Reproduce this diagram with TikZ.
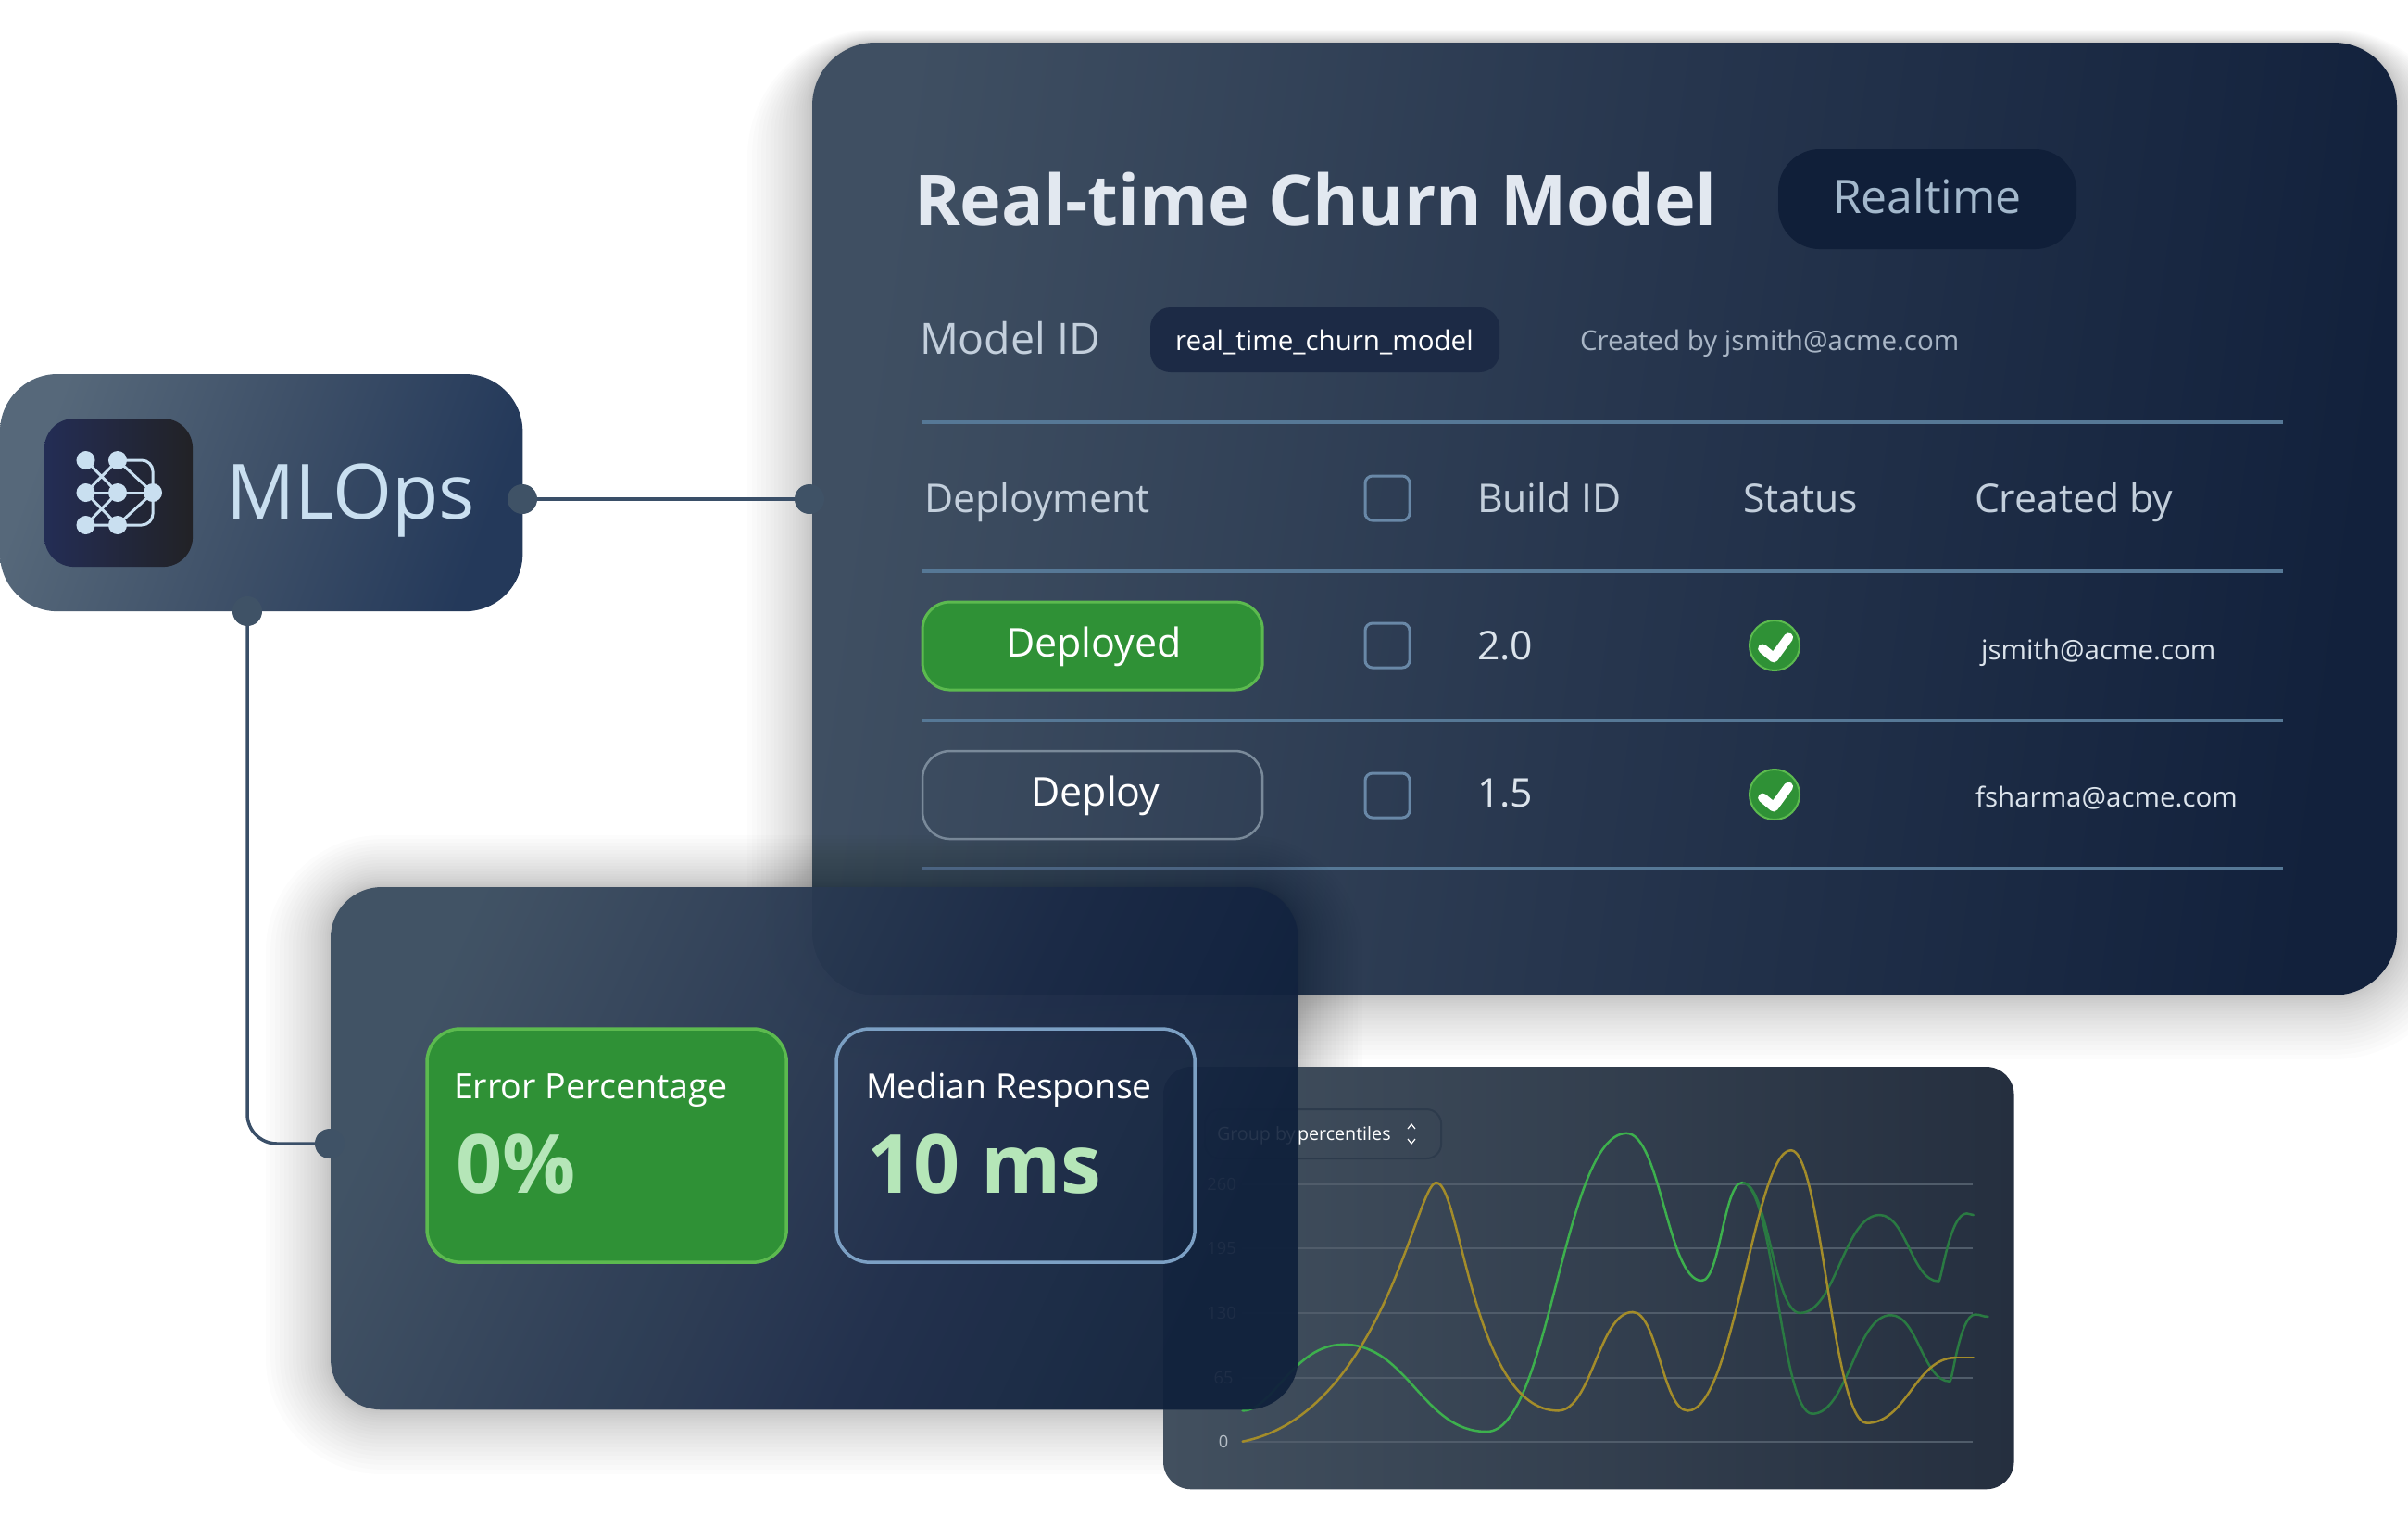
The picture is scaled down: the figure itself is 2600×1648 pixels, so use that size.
\documentclass[tikz,border=0pt]{standalone}
\usepackage{fontspec}
\setmainfont{Open Sans}
\usetikzlibrary{calc}
\definecolor{cline}{HTML}{3A4F68}
\definecolor{cdot}{HTML}{3F5266}
\definecolor{crule}{HTML}{567896}
\definecolor{cgreen}{HTML}{2F9136}
\definecolor{cgreenedge}{HTML}{5CBA4F}
\definecolor{clight}{HTML}{B5E6B8}
\definecolor{cbluedge}{HTML}{7CA0C4}
\definecolor{cicon}{HTML}{C9DFF0}
\definecolor{cyel}{HTML}{A38C2A}
\definecolor{cgrnA}{HTML}{3DB04D}
\definecolor{cgrnB}{HTML}{2A7A42}
\definecolor{cHdr}{HTML}{C3CFDC}
\definecolor{cTitle}{HTML}{E2E8F0}
\definecolor{cVal}{HTML}{DCE4EC}
\definecolor{cGrid}{HTML}{505C6A}
\definecolor{cAx}{HTML}{B8C0C8}
\definecolor{cFaint}{HTML}{26354D}
\definecolor{cFainter}{HTML}{1E2D46}
\definecolor{pillA}{HTML}{101F39}
\definecolor{pillB}{HTML}{1C2A45}
\definecolor{cRt}{HTML}{A3B8CC}
\definecolor{cMut}{HTML}{A9B6C6}
\definecolor{cBtn}{HTML}{7A8A9A}
\definecolor{cha}{HTML}{42505F}
\definecolor{chb}{HTML}{252F3F}
\definecolor{ica}{HTML}{232D55}
\definecolor{icb}{HTML}{222226}
\definecolor{pa}{HTML}{3F4F62}\definecolor{pb}{HTML}{27364E}\definecolor{pc}{HTML}{12213C}
\definecolor{ka}{HTML}{3B4D60}\definecolor{kb}{HTML}{1B2A47}\definecolor{kc}{HTML}{10213C}
\definecolor{ma}{HTML}{56687A}\definecolor{mb}{HTML}{3E5068}\definecolor{mc}{HTML}{24395A}
\pgfdeclarehorizontalshading{panelshade}{100bp}{color(0bp)=(pa); color(25bp)=(pa); color(50bp)=(pb); color(75bp)=(pc); color(100bp)=(pc)}
\pgfdeclarehorizontalshading{cardshade}{100bp}{color(0bp)=(ka); color(25bp)=(ka); color(58bp)=(kb); color(75bp)=(kc); color(100bp)=(kc)}
\pgfdeclarehorizontalshading{mlopsshade}{100bp}{color(0bp)=(ma); color(25bp)=(ma); color(50bp)=(mb); color(75bp)=(mc); color(100bp)=(mc)}
\newcommand{\softshadow}[6]{%
  \foreach \k in {1,...,20}{%
    \pgfmathsetmacro\dd{70*(\k/20)^1.5}%
    \pgfmathsetmacro\rr{(#5+\dd)*0.01}%
    \fill[black,opacity=0.0125,rounded corners=\rr cm]
      (#1-\dd,#2-\dd*#6) rectangle (#3+\dd,#4+\dd);
  }%
}
% a chart line: extrema joined by beziers with level tangents
\newcommand{\wave}[4]{%
  \foreach \wx/\wy/\ka/\kb [remember=\wx as \lx (initially #2),remember=\wy as \ly (initially #3)] in {#4}{%
    \pgfmathsetmacro\cax{\lx+\ka*(\wx-\lx)}%
    \pgfmathsetmacro\cbx{\wx-\kb*(\wx-\lx)}%
    \draw[#1,curve] (\lx,\ly) .. controls (\cax,\ly) and (\cbx,\wy) .. (\wx,\wy);
  }%
}
\newcommand{\fsz}[1]{\fontsize{#1}{#1}\selectfont}
\tikzset{
  x=0.01cm,y=-0.01cm,
  box/.style={rectangle,inner sep=0pt,outer sep=0pt,anchor=north west},
  dotnode/.style={circle,fill=cdot,inner sep=0pt,outer sep=0pt,minimum size=0.32cm},
  conn/.style={draw=cline,line width=0.035cm},
  rowrule/.style={draw=crule,line width=0.04cm},
  lbl/.style={anchor=base west,inner sep=0pt,outer sep=0pt},
  clbl/.style={anchor=base,inner sep=0pt,outer sep=0pt},
  chk/.style={box,minimum width=0.48cm,minimum height=0.48cm,draw=cbluedge!85!black,line width=0.03cm,rounded corners=0.08cm},
  okdot/.style={circle,fill=cgreen,draw=cgreenedge,line width=0.02cm,inner sep=0pt,minimum size=0.54cm},
  tickmark/.style={draw=white,line width=0.1cm,line cap=round,line join=round},
  netline/.style={draw=cicon,line width=0.03cm},
  netnode/.style={circle,fill=cicon,inner sep=0pt,minimum size=0.2cm},
  hdr/.style={lbl,text=cHdr,font=\fsz{12.15}},
  gridl/.style={draw=cGrid,line width=0.022cm},
  axl/.style={anchor=center,inner sep=0pt,text=cFainter,font=\fsz{5.2}},
  curve/.style={line width=0.025cm,line cap=round}
}
\begin{document}
\begin{tikzpicture}
\useasboundingbox (0,0) rectangle (2600,1648);
\fill[white] (0,0) rectangle (2600,1648);

% main panel
\softshadow{877}{46}{2587}{1074}{68}{0.2}
\node[box,shade,shading=panelshade,shading angle=-8,rounded corners=0.68cm,minimum width=17.10cm,minimum height=10.28cm] (panel) at (877,46) {};

\node[lbl,text=cTitle,font=\fsz{21.5}\bfseries] (title) at (987,243) {Real-time Churn Model};
\node[box,minimum width=3.22cm,minimum height=1.08cm,rounded corners=0.45cm,fill=pillA] (rtpill) at (1920,161) {};
\node[clbl,text=cRt,font=\fsz{14.2}] (rt) at (2081,230) {Realtime};
\node[lbl,text=cHdr,font=\fsz{13.2}] (mid) at (993,382) {Model ID};
\node[box,fill=pillB,minimum width=3.77cm,minimum height=0.70cm,rounded corners=0.22cm] (idpill) at (1242,332) {};
\node[clbl,text=white,font=\fsz{8.4}] (idtext) at (1430,378) {real\_time\_churn\_model};
\node[lbl,text=cMut,font=\fsz{8.4}] (createdtop) at (1706,378) {Created by jsmith@acme.com};

\draw[rowrule] (995,456) -- (2465,456);
\draw[rowrule] (995,617) -- (2465,617);
\draw[rowrule] (995,778) -- (2465,778);
\draw[rowrule] (995,938) -- (2465,938);

\node[hdr] (h1) at (998,553) {Deployment};
\node[chk] (c0) at (1474,514) {};
\node[hdr] (h2) at (1595,553) {Build ID};
\node[hdr] (h3) at (1882,553) {Status};
\node[hdr] (h4) at (2132,553) {Created by};

\node[box,fill=cgreen,draw=cgreenedge,line width=0.03cm,minimum width=3.67cm,minimum height=0.95cm,rounded corners=0.3cm] (btn1) at (996,650) {};
\node[clbl,text=white,font=\fsz{12.2}] (btn1t) at (1181,709) {Deployed};
\node[chk] (c1) at (1474,673) {};
\node[hdr,text=cVal] (v1) at (1595,712) {2.0};
\node[okdot] (ok1) at (1916,697) {};
\begin{scope}[shift={(19.16cm,-6.97cm)}]
\draw[tickmark] (-14,3) -- (-2,13) -- (14,-9);
\end{scope}
\node[lbl,text=cVal,font=\fsz{8.4}] (e1) at (2139,712) {jsmith@acme.com};

\node[box,draw=cBtn,line width=0.025cm,minimum width=3.67cm,minimum height=0.95cm,rounded corners=0.3cm] (btn2) at (996,811) {};
\node[clbl,text=white,font=\fsz{12.2}] (btn2t) at (1183,870) {Deploy};
\node[chk] (c2) at (1474,835) {};
\node[hdr,text=cVal] (v2) at (1595,871) {1.5};
\node[okdot] (ok2) at (1916,858) {};
\begin{scope}[shift={(19.16cm,-8.58cm)}]
\draw[tickmark] (-14,3) -- (-2,13) -- (14,-9);
\end{scope}
\node[lbl,text=cVal,font=\fsz{8.4}] (e2) at (2133,871) {fsharma@acme.com};

% metrics card shadow goes under the chart
\softshadow{357}{958}{1401}{1522}{55}{0.8}

% chart
\node[box,shade,left color=cha,right color=chb,rounded corners=0.3cm,minimum width=9.18cm,minimum height=4.56cm] (chart) at (1256,1152) {};
\node[box,draw=cGrid!120,line width=0.02cm,minimum width=2.55cm,minimum height=0.53cm,rounded corners=0.16cm] (grp) at (1301,1198) {};
\node[lbl,text=white,font=\fsz{5.6}] (grp2) at (1401,1231) {percentiles};
\draw[white,line width=0.012cm] (1520,1219) -- (1524,1214) -- (1528,1219);
\draw[white,line width=0.012cm] (1520,1230) -- (1524,1235) -- (1528,1230);
\foreach \yy in {1279,1348,1418,1488,1557}{
  \draw[gridl] (1341,\yy) -- (2130,\yy);
}
\node[anchor=center,inner sep=0pt,text=cAx,font=\fsz{5.2}] (axe) at (1321,1557) {0};
\begin{scope}[shift={(12.5cm,-11.4cm)},x=0.00606cm,y=-0.00333cm]
\wave{cgrnB}{1040}{410}{1165/1160/.45/.45,1305/840/.45/.45,1410/1055/.45/.45,1455/838/.1/.6,1478/845/.45/.45}
\wave{cgrnB}{1040}{410}{1143/833/.45/.45,1285/515/.45/.45,1390/730/.45/.45,1440/510/.1/.6,1452/515/.45/.45}
\wave{cgrnA}{150}{1150}{330/935/.3/.5,585/1218/.45/.45,834/250/.45/.45,968/728/.45/.45,1040/410/.45/.45}
\draw[cyel,curve] (150,1250) .. controls (400,1160) and (460,410) .. (495,410);
\wave{cyel}{495}{410}{712/1150/.2/.7,845/830/.45/.45,943/1150/.45/.45,1127/305/.45/.35,1262/1190/.4/.45,1420/978/.45/.45,1452/978/.45/.45}
\end{scope}

% metrics card
\node[box,shade,shading=cardshade,shading angle=-25,opacity=0.95,rounded corners=0.55cm,minimum width=10.44cm,minimum height=5.64cm] (card) at (357,958) {};
\node[lbl,text=cFaint,font=\fsz{5.6}] (grp1) at (1314,1231) {Group by};
\node[axl] (axa) at (1319,1279) {260};
\node[axl] (axb) at (1319,1348) {195};
\node[axl] (axc) at (1319,1418) {130};
\node[axl] (axd) at (1321,1488) {65};
\node[box,fill=cgreen,draw=cgreenedge,line width=0.035cm,minimum width=3.88cm,minimum height=2.52cm,rounded corners=0.36cm] (err) at (461,1111) {};
\node[lbl,text=white,font=\fsz{10.7}] (errt) at (490,1186) {Error Percentage};
\node[lbl,text=clight,font=\fsz{25}\bfseries] (errv) at (492,1288) {0\%};
\node[box,draw=cbluedge,line width=0.035cm,minimum width=3.87cm,minimum height=2.52cm,rounded corners=0.36cm] (med) at (903,1111) {};
\node[lbl,text=white,font=\fsz{10.6}] (medt) at (935,1186) {Median Response};
\node[lbl,text=clight,font=\fsz{25}\bfseries] (medv) at (936,1288) {10 ms};

% MLOps box
\node[box,shade,shading=mlopsshade,shading angle=-20,rounded corners=0.62cm,minimum width=5.64cm,minimum height=2.56cm] (mlops) at (0,404) {};
\node[box,shade,left color=ica,right color=icb,rounded corners=0.32cm,minimum width=1.60cm,minimum height=1.60cm] (icon) at (48,452) {};
\node[lbl,text=cicon,font=\fsz{23.4}] (mlopst) at (244,560) {MLOps};

% network icon
\coordinate (nTL) at (92.5,497);
\coordinate (nTR) at (127,497);
\coordinate (nML) at (92.5,532);
\coordinate (nMM) at (127,532);
\coordinate (nR) at (165,532);
\coordinate (nBL) at (92.5,567);
\coordinate (nBR) at (127,567);
\draw[netline] (nTL) -- (nMM) -- (nBL) -- (nBR) -- (nML) -- (nTR) -- (nR) -- (nBR);
\draw[netline] (nML) -- (nR);
\draw[netline,rounded corners=0.12cm] (nTR) -- (165,497) -- (165,567) -- (nBR);
\foreach \n/\m in {nTL/a,nTR/b,nML/c,nMM/d,nR/e,nBL/f,nBR/g}{\node[netnode] (k\m) at (\n) {};}

% connectors
\node[dotnode] (dR) at (564,539) {};
\node[dotnode] (dP) at (874,539) {};
\node[dotnode] (dB) at (267,660) {};
\node[dotnode] (dC) at (356,1235) {};
\draw[conn] (dR) -- (dP);
\draw[conn,rounded corners=0.32cm] (dB) |- (dC);
\end{tikzpicture}
\end{document}
